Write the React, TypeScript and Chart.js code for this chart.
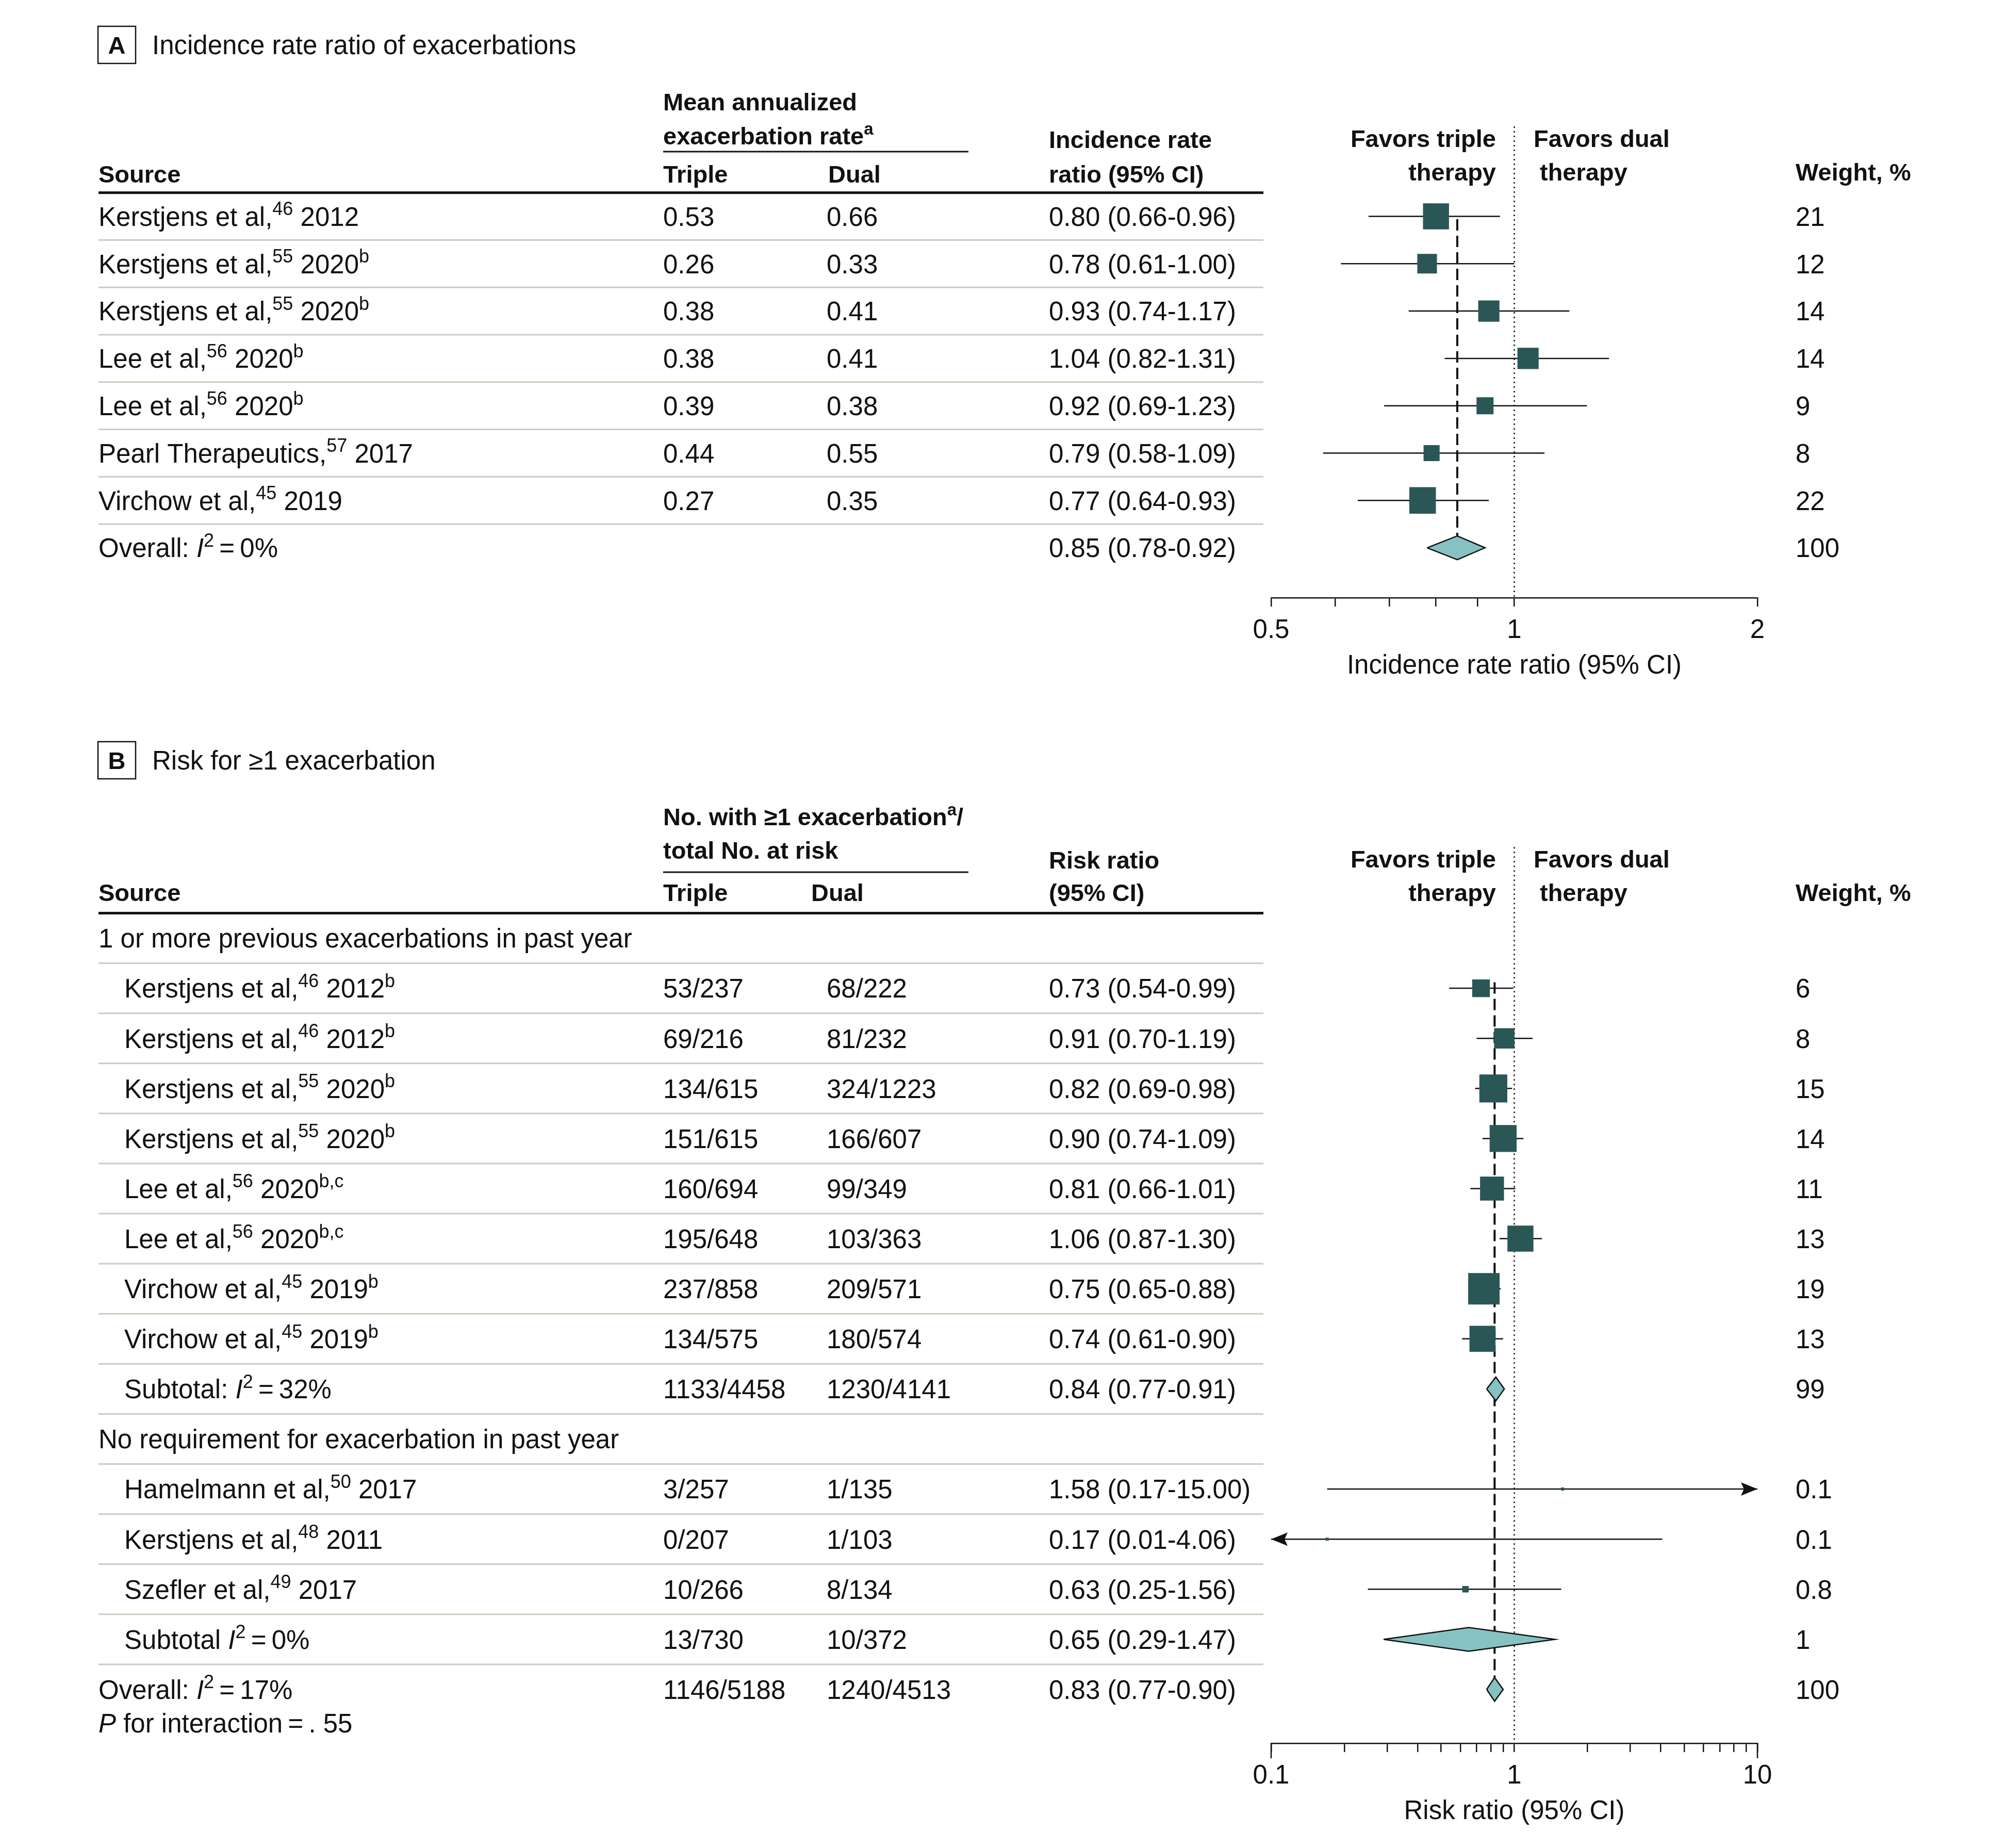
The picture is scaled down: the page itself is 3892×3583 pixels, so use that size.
import React, { useEffect, useRef } from "react";
import { Chart, registerables } from "chart.js";

Chart.register(...registerables);

const W = 3892;
const FAMILY = '"Liberation Sans", Arial, sans-serif';
const REG = 51;
const BOLD = 47;
const INK = "#111111";
const SQUARE = "#2a5756";
const DIAMOND = "#86c2c1";
const RULE = "#c9ccbe";

// ---------------- Panel A data ----------------
const titleA = "Incidence rate ratio of exacerbations";
const sourcesA = [
  "Kerstjens et al,^{46} 2012",
  "Kerstjens et al,^{55} 2020^{b}",
  "Kerstjens et al,^{55} 2020^{b}",
  "Lee et al,^{56} 2020^{b}",
  "Lee et al,^{56} 2020^{b}",
  "Pearl Therapeutics,^{57} 2017",
  "Virchow et al,^{45} 2019",
];
const tripleA = ["0.53", "0.26", "0.38", "0.38", "0.39", "0.44", "0.27"];
const dualA = ["0.66", "0.33", "0.41", "0.41", "0.38", "0.55", "0.35"];
const estA = [0.8, 0.78, 0.93, 1.04, 0.92, 0.79, 0.77];
const lowA = [0.66, 0.61, 0.74, 0.82, 0.69, 0.58, 0.64];
const highA = [0.96, 1.0, 1.17, 1.31, 1.23, 1.09, 0.93];
const weightA = [21, 12, 14, 14, 9, 8, 22];
const overallLabelA = "Overall: *I*^{2}\u2009=\u20090%";
const overallA = [0.85, 0.78, 0.92];
const overallWeightA = 100;
const ticksA = [0.5, 0.6, 0.7, 0.8, 0.9, 1, 2];
const tickLabelsA = ["0.5", "1", "2"];
const axisTitleA = "Incidence rate ratio (95% CI)";

// ---------------- Panel B data ----------------
const titleB = "Risk for \u22651 exacerbation";
const groupsB = [
  "1 or more previous exacerbations in past year",
  "No requirement for exacerbation in past year",
];
const sourcesB1 = [
  "Kerstjens et al,^{46} 2012^{b}",
  "Kerstjens et al,^{46} 2012^{b}",
  "Kerstjens et al,^{55} 2020^{b}",
  "Kerstjens et al,^{55} 2020^{b}",
  "Lee et al,^{56} 2020^{b,c}",
  "Lee et al,^{56} 2020^{b,c}",
  "Virchow et al,^{45} 2019^{b}",
  "Virchow et al,^{45} 2019^{b}",
];
const tripleB1 = ["53/237", "69/216", "134/615", "151/615", "160/694", "195/648", "237/858", "134/575"];
const dualB1 = ["68/222", "81/232", "324/1223", "166/607", "99/349", "103/363", "209/571", "180/574"];
const estB1 = [0.73, 0.91, 0.82, 0.9, 0.81, 1.06, 0.75, 0.74];
const lowB1 = [0.54, 0.7, 0.69, 0.74, 0.66, 0.87, 0.65, 0.61];
const highB1 = [0.99, 1.19, 0.98, 1.09, 1.01, 1.3, 0.88, 0.9];
const weightB1 = [6, 8, 15, 14, 11, 13, 19, 13];
const subtotalLabelB1 = "Subtotal: *I*^{2}\u2009=\u200932%";
const subtotalCountsB1 = ["1133/4458", "1230/4141"];
const subtotalB1 = [0.84, 0.77, 0.91];
const subtotalWeightB1 = 99;

const sourcesB2 = [
  "Hamelmann et al,^{50} 2017",
  "Kerstjens et al,^{48} 2011",
  "Szefler et al,^{49} 2017",
];
const tripleB2 = ["3/257", "0/207", "10/266"];
const dualB2 = ["1/135", "1/103", "8/134"];
const estB2 = [1.58, 0.17, 0.63];
const lowB2 = [0.17, 0.01, 0.25];
const highB2 = [15.0, 4.06, 1.56];
const weightB2 = [0.1, 0.1, 0.8];
const subtotalLabelB2 = "Subtotal *I*^{2}\u2009=\u20090%";
const subtotalCountsB2 = ["13/730", "10/372"];
const subtotalB2 = [0.65, 0.29, 1.47];
const subtotalWeightB2 = 1;

const overallLabelB = "Overall: *I*^{2}\u2009=\u200917%";
const overallCountsB = ["1146/5188", "1240/4513"];
const overallB = [0.83, 0.77, 0.9];
const overallWeightB = 100;
const interactionNoteB = "*P* for interaction\u2009=\u2009. 55";
const ticksB = [0.1, 0.2, 0.3, 0.4, 0.5, 0.6, 0.7, 0.8, 0.9, 1, 2, 3, 4, 5, 6, 7, 8, 9, 10];
const tickLabelsB = ["0.1", "1", "10"];
const axisTitleB = "Risk ratio (95% CI)";

// ---------------- helpers ----------------
type Row = {
  y: number;
  kind: "study" | "pooled" | "text";
  label: string;
  indent?: boolean;
  cols?: string[];
  est?: number;
  lo?: number;
  hi?: number;
  weight?: number;
};

type Head = { text: string; x: number; y: number; align?: "left" | "right" | "center"; bold?: boolean };

type Panel = {
  key: string;
  top: number;
  height: number;
  row0: number;
  rowPx: number;
  axisY: number;
  xMin: number;
  xMax: number;
  ticks: number[];
  tickLabels: string[];
  longTicks: number[];
  axisTitle: string;
  rows: Row[];
  separators: number[];
  heads: Head[];
  underline: { x1: number; x2: number; y: number };
  box: { x: number; y: number; w: number; h: number; letter: string };
  title: { text: string; x: number; y: number };
  overall: number;
  dashFrom: number;
  dashTo: number;
  dotFrom: number;
  squareK: number;
  duals: number;
};

const ciText = (e: number, l: number, h: number) =>
  `${e.toFixed(2)} (${l.toFixed(2)}-${h.toFixed(2)})`;

function parseRich(text: string) {
  const out: { t: string; sup?: boolean; italic?: boolean; w?: number }[] = [];
  const re = /\^\{([^}]*)\}|\*([^*]*)\*|([^^*]+)/g;
  let m: RegExpExecArray | null;
  while ((m = re.exec(text))) {
    if (m[1] !== undefined) out.push({ t: m[1], sup: true });
    else if (m[2] !== undefined) out.push({ t: m[2], italic: true });
    else out.push({ t: m[3] });
  }
  return out;
}

function drawRich(
  ctx: CanvasRenderingContext2D,
  text: string,
  x: number,
  cy: number,
  align: string,
  bold: boolean
) {
  const size = bold ? BOLD : REG;
  const segs = parseRich(text);
  const base = cy + size * 0.36;
  const fontFor = (s: any) =>
    `${s.italic ? "italic " : ""}${bold ? "bold " : ""}${s.sup ? Math.round(size * 0.7) : size}px ${FAMILY}`;
  let total = 0;
  for (const s of segs) {
    ctx.font = fontFor(s);
    s.w = ctx.measureText(s.t).width;
    total += s.w;
  }
  let xx = align === "right" ? x - total : align === "center" ? x - total / 2 : x;
  ctx.textAlign = "left";
  ctx.textBaseline = "alphabetic";
  ctx.fillStyle = INK;
  for (const s of segs) {
    ctx.font = fontFor(s);
    ctx.fillText(s.t, xx, s.sup ? base - size * 0.4 : base);
    xx += s.w || 0;
  }
}

const COL = { source: 191, indent: 241, triple: 1286, ci: 2034, weight: 3482, ruleEnd: 2450 };

function makeForestPlugin(p: Panel) {
  return {
    id: "forest" + p.key,
    afterDraw(chart: any) {
      const ctx: CanvasRenderingContext2D = chart.ctx;
      const ys = chart.scales.y;
      const xs = chart.scales.x;
      const py = (v: number) => ys.getPixelForValue(v);
      ctx.save();
      // panel box + title
      ctx.strokeStyle = INK;
      ctx.lineWidth = 2.5;
      ctx.strokeRect(p.box.x, p.box.y, p.box.w, p.box.h);
      drawRich(ctx, p.box.letter, p.box.x + p.box.w / 2, p.box.y + p.box.h / 2, "center", true);
      drawRich(ctx, p.title.text, p.title.x, p.title.y, "left", false);
      // headers
      for (const h of p.heads) drawRich(ctx, h.text, h.x, h.y, h.align || "left", h.bold !== false);
      ctx.fillStyle = INK;
      ctx.fillRect(p.underline.x1, p.underline.y - 1.5, p.underline.x2 - p.underline.x1, 3);
      const thickY = py(-0.5);
      ctx.fillRect(COL.source, thickY - 2.5, COL.ruleEnd - COL.source, 5);
      // separators
      ctx.fillStyle = RULE;
      for (const s of p.separators) {
        const y = py(s);
        ctx.fillRect(COL.source, y - 1.5, COL.ruleEnd - COL.source, 3);
      }
      // rows
      for (const r of p.rows) {
        const y = py(r.y);
        drawRich(ctx, r.label, r.indent ? COL.indent : COL.source, y, "left", false);
        if (r.cols) {
          drawRich(ctx, r.cols[0], COL.triple, y, "left", false);
          drawRich(ctx, r.cols[1], p.duals, y, "left", false);
        }
        if (r.est !== undefined) {
          drawRich(ctx, ciText(r.est, r.lo as number, r.hi as number), COL.ci, y, "left", false);
          drawRich(ctx, String(r.weight), COL.weight, y, "left", false);
        }
        // arrowheads for truncated intervals
        if (r.kind === "study") {
          ctx.fillStyle = INK;
          if ((r.hi as number) > p.xMax) {
            const tip = xs.getPixelForValue(p.xMax);
            ctx.beginPath();
            ctx.moveTo(tip, y);
            ctx.lineTo(tip - 32, y - 13);
            ctx.lineTo(tip - 26, y);
            ctx.lineTo(tip - 32, y + 13);
            ctx.closePath();
            ctx.fill();
          }
          if ((r.lo as number) < p.xMin) {
            const tip = xs.getPixelForValue(p.xMin);
            ctx.beginPath();
            ctx.moveTo(tip, y);
            ctx.lineTo(tip + 32, y - 13);
            ctx.lineTo(tip + 26, y);
            ctx.lineTo(tip + 32, y + 13);
            ctx.closePath();
            ctx.fill();
          }
        }
      }
      // longer end ticks
      ctx.strokeStyle = INK;
      ctx.lineWidth = 2.5;
      for (const v of p.longTicks) {
        const x = Math.round(xs.getPixelForValue(v));
        ctx.beginPath();
        ctx.moveTo(x, p.axisY);
        ctx.lineTo(x, p.axisY + 29);
        ctx.stroke();
      }
      ctx.restore();
    },
  };
}

const AXIS_H = 164;

function buildConfig(p: Panel): any {
  const yMin = -3.5;
  const chartTop = p.row0 + yMin * p.rowPx;
  const yMax = (p.axisY - p.row0) / p.rowPx;
  const studies = p.rows.filter((r) => r.kind === "study");
  const pooled = p.rows.filter((r) => r.kind === "pooled");
  const clamp = (v: number) => Math.min(p.xMax, Math.max(p.xMin, v));
  const whiskers: any[] = [];
  studies.forEach((r) => {
    whiskers.push({ x: clamp(r.lo as number), y: r.y }, { x: clamp(r.hi as number), y: r.y }, { x: r.est, y: null });
  });
  const dh = 23 / p.rowPx;
  const datasets: any[] = [
    {
      type: "scatter",
      data: studies.map((r) => ({ x: r.est, y: r.y })),
      pointStyle: "rect",
      pointRadius: (c: any) =>
        Math.max(6, p.squareK * Math.sqrt(studies[c.dataIndex].weight as number)) / Math.SQRT2,
      backgroundColor: SQUARE,
      borderWidth: 0,
      pointBorderWidth: 0,
    },
    ...pooled.map((r) => ({
      type: "line",
      data: [
        { x: r.lo, y: r.y },
        { x: r.est, y: r.y - dh },
        { x: r.hi, y: r.y },
        { x: r.est, y: r.y + dh },
        { x: r.lo, y: r.y },
      ],
      fill: "shape",
      backgroundColor: DIAMOND,
      borderColor: INK,
      borderWidth: 2.5,
      borderJoinStyle: "miter",
      pointRadius: 0,
      tension: 0,
    })),
    {
      type: "line",
      data: whiskers,
      borderColor: INK,
      borderWidth: 2.5,
      pointRadius: 0,
      spanGaps: false,
      fill: false,
    },
    {
      type: "line",
      data: [
        { x: p.overall, y: p.dashFrom },
        { x: p.overall, y: p.dashTo },
      ],
      borderColor: INK,
      borderWidth: 4,
      borderDash: [22, 10],
      pointRadius: 0,
      fill: false,
    },
    {
      type: "line",
      data: [
        { x: 1, y: p.dotFrom },
        { x: 1, y: yMax },
      ],
      borderColor: INK,
      borderWidth: 2.5,
      borderDash: [3, 6],
      pointRadius: 0,
      fill: false,
    },
  ];
  return {
    type: "scatter",
    data: { datasets },
    options: {
      responsive: false,
      animation: false,
      devicePixelRatio: 1,
      events: [],
      layout: {
        padding: {
          left: 2465,
          right: W - 3408,
          top: chartTop,
          bottom: p.height - p.axisY - AXIS_H,
        },
      },
      plugins: { legend: { display: false }, tooltip: { enabled: false }, title: { display: false } },
      scales: {
        x: {
          type: "logarithmic",
          position: "bottom",
          min: p.xMin,
          max: p.xMax,
          afterBuildTicks: (s: any) => {
            s.ticks = p.ticks.map((v) => ({ value: v }));
          },
          afterFit: (s: any) => {
            s.height = AXIS_H;
          },
          ticks: {
            autoSkip: false,
            maxRotation: 0,
            minRotation: 0,
            padding: 16,
            color: INK,
            font: { family: FAMILY, size: REG },
            callback: (v: any) => {
              const hit = p.tickLabels.find((t) => Math.abs(parseFloat(t) - Number(v)) < 1e-9);
              return hit ?? "";
            },
          },
          grid: {
            drawOnChartArea: false,
            drawTicks: true,
            tickLength: 17,
            color: INK,
            lineWidth: 2.5,
          },
          border: { display: true, color: INK, width: 2.5 },
          title: {
            display: true,
            text: p.axisTitle,
            color: INK,
            font: { family: FAMILY, size: REG },
            padding: { top: 0, bottom: 0 },
          },
        },
        y: { type: "linear", display: false, reverse: true, min: yMin, max: yMax },
      },
    },
    plugins: [makeForestPlugin(p)],
  };
}

// ---------------- panel specs ----------------
const rowsA: Row[] = sourcesA.map((s, i) => ({
  y: i,
  kind: "study",
  label: s,
  cols: [tripleA[i], dualA[i]],
  est: estA[i],
  lo: lowA[i],
  hi: highA[i],
  weight: weightA[i],
}));
rowsA.push({
  y: sourcesA.length,
  kind: "pooled",
  label: overallLabelA,
  cols: ["", ""],
  est: overallA[0],
  lo: overallA[1],
  hi: overallA[2],
  weight: overallWeightA,
});

const rowsB: Row[] = [];
{
  let r = 0;
  rowsB.push({ y: r++, kind: "text", label: groupsB[0] });
  sourcesB1.forEach((s, i) =>
    rowsB.push({
      y: r++,
      kind: "study",
      indent: true,
      label: s,
      cols: [tripleB1[i], dualB1[i]],
      est: estB1[i],
      lo: lowB1[i],
      hi: highB1[i],
      weight: weightB1[i],
    })
  );
  rowsB.push({
    y: r++,
    kind: "pooled",
    indent: true,
    label: subtotalLabelB1,
    cols: subtotalCountsB1,
    est: subtotalB1[0],
    lo: subtotalB1[1],
    hi: subtotalB1[2],
    weight: subtotalWeightB1,
  });
  rowsB.push({ y: r++, kind: "text", label: groupsB[1] });
  sourcesB2.forEach((s, i) =>
    rowsB.push({
      y: r++,
      kind: "study",
      indent: true,
      label: s,
      cols: [tripleB2[i], dualB2[i]],
      est: estB2[i],
      lo: lowB2[i],
      hi: highB2[i],
      weight: weightB2[i],
    })
  );
  rowsB.push({
    y: r++,
    kind: "pooled",
    indent: true,
    label: subtotalLabelB2,
    cols: subtotalCountsB2,
    est: subtotalB2[0],
    lo: subtotalB2[1],
    hi: subtotalB2[2],
    weight: subtotalWeightB2,
  });
  rowsB.push({
    y: r++,
    kind: "pooled",
    label: overallLabelB,
    cols: overallCountsB,
    est: overallB[0],
    lo: overallB[1],
    hi: overallB[2],
    weight: overallWeightB,
  });
  rowsB.push({ y: r - 1 + 0.67, kind: "text", label: interactionNoteB });
}

const panelA: Panel = {
  key: "A",
  top: 0,
  height: 1400,
  row0: 419.5,
  rowPx: 91.8,
  axisY: 1159,
  xMin: 0.5,
  xMax: 2,
  ticks: ticksA,
  tickLabels: tickLabelsA,
  longTicks: [],
  axisTitle: axisTitleA,
  rows: rowsA,
  separators: sourcesA.map((_, i) => i + 0.5),
  heads: [
    { text: "Mean annualized", x: 1286, y: 197 },
    { text: "exacerbation rate^{a}", x: 1286, y: 263 },
    { text: "Source", x: 191, y: 337 },
    { text: "Triple", x: 1286, y: 337 },
    { text: "Dual", x: 1606, y: 337 },
    { text: "Incidence rate", x: 2034, y: 270 },
    { text: "ratio (95% CI)", x: 2034, y: 337 },
    { text: "Favors triple", x: 2901, y: 268, align: "right" },
    { text: "therapy", x: 2901, y: 333, align: "right" },
    { text: "Favors dual", x: 2974, y: 268 },
    { text: "therapy", x: 2986, y: 333 },
    { text: "Weight, %", x: 3482, y: 333 },
  ],
  underline: { x1: 1286, x2: 1878, y: 294 },
  box: { x: 190, y: 51, w: 73, h: 72, letter: "A" },
  title: { text: titleA, x: 295, y: 87 },
  overall: overallA[0],
  dashFrom: 0.06,
  dashTo: sourcesA.length - 23 / 91.8,
  dotFrom: -1.9,
  squareK: 11,
  duals: 1603,
};

const panelB: Panel = {
  key: "B",
  top: 1400,
  height: 3583 - 1400,
  row0: 419,
  rowPx: 97.1,
  axisY: 1980,
  xMin: 0.1,
  xMax: 10,
  ticks: ticksB,
  tickLabels: tickLabelsB,
  longTicks: [0.1, 10],
  axisTitle: axisTitleB,
  rows: rowsB,
  separators: Array.from({ length: 15 }, (_, i) => i + 0.5),
  heads: [
    { text: "No. with \u22651 exacerbation^{a}/", x: 1286, y: 183 },
    { text: "total No. at risk", x: 1286, y: 248 },
    { text: "Source", x: 191, y: 330 },
    { text: "Triple", x: 1286, y: 330 },
    { text: "Dual", x: 1573, y: 330 },
    { text: "Risk ratio", x: 2034, y: 267 },
    { text: "(95% CI)", x: 2034, y: 330 },
    { text: "Favors triple", x: 2901, y: 265, align: "right" },
    { text: "therapy", x: 2901, y: 330, align: "right" },
    { text: "Favors dual", x: 2974, y: 265 },
    { text: "therapy", x: 2986, y: 330 },
    { text: "Weight, %", x: 3482, y: 330 },
  ],
  underline: { x1: 1286, x2: 1878, y: 291 },
  box: { x: 190, y: 38, w: 73, h: 72, letter: "B" },
  title: { text: titleB, x: 295, y: 74 },
  overall: overallB[0],
  dashFrom: 0.88,
  dashTo: 15 - 23 / 97.1,
  dotFrom: -1.82,
  squareK: 14,
  duals: 1603,
};

function ForestPanel({ panel }: { panel: Panel }) {
  const ref = useRef<HTMLCanvasElement | null>(null);
  useEffect(() => {
    if (!ref.current) return;
    const chart = new Chart(ref.current, buildConfig(panel));
    return () => chart.destroy();
  }, [panel]);
  return (
    <canvas
      ref={ref}
      width={W}
      height={panel.height}
      style={{ position: "absolute", left: 0, top: panel.top, width: W, height: panel.height }}
    />
  );
}

export default function App() {
  return (
    <div style={{ position: "absolute", left: 0, top: 0, width: W, height: 3583, background: "#ffffff" }}>
      <ForestPanel panel={panelA} />
      <ForestPanel panel={panelB} />
    </div>
  );
}
